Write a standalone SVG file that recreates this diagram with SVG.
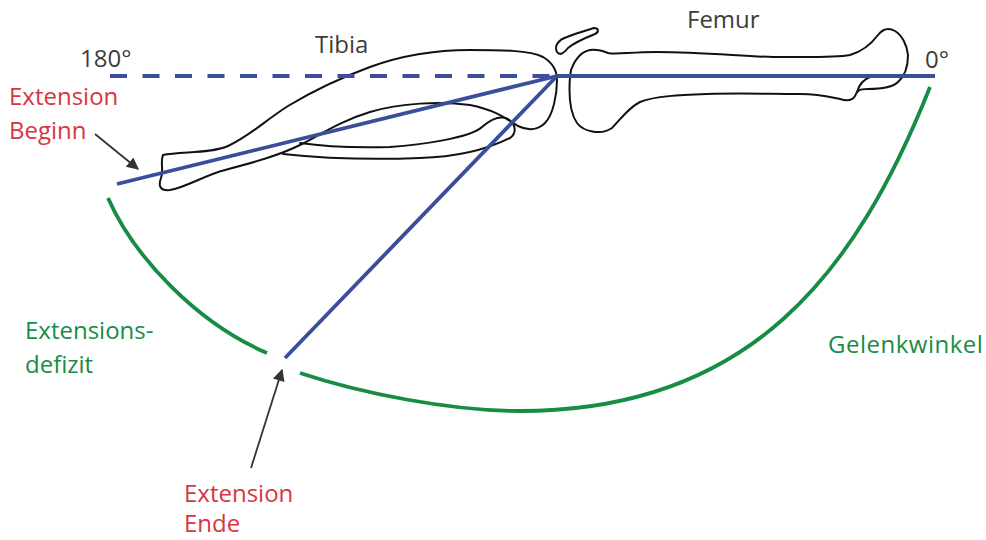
<svg xmlns="http://www.w3.org/2000/svg" width="986" height="540" viewBox="0 0 986 540">
  <defs>
    <style>
      .bone { fill: none; stroke: #111; stroke-width: 2; stroke-linejoin: round; stroke-linecap: round; }
      .axis { fill: none; stroke: #3b4e9c; stroke-width: 3.8; }
      .arc { fill: none; stroke: #178c45; stroke-width: 3.8; }
      .pointer { fill: none; stroke: #333; stroke-width: 1.8; }
      text { font-family: "Open Sans", "Noto Sans", "Liberation Sans", sans-serif; font-size: 24px; }
      .lbl { fill: #3c3c3c; }
      .red { fill: #d9343f; }
      .green { fill: #178c45; }
    </style>
    <marker id="headBig" viewBox="0 0 10 10" refX="9" refY="5" markerWidth="14" markerHeight="12" markerUnits="userSpaceOnUse" orient="auto">
      <path d="M0,0 L10,5 L0,10 Z" fill="#333"/>
    </marker>
  </defs>

  <!-- bones -->
  <g id="tibia">
    <path class="bone" d="M163,155 C180,151 210,154 228,146 C250,136 263,122 288,106 C313,91 340,78 370,67 C400,56 430,50 470,50 C500,50 530,50 543,57 C553,63 557,72 557,80 C557,95 553,115 545,123 C538,130 528,131 518,126 C505,118 495,110 470,105 C440,101 400,103 370,112 C340,121 320,135 300,145 C280,155 255,162 225,170 C205,175 185,188 170,190 C160,191 158,186 161,178 C164,170 160,162 163,155 Z"/>
    <path class="bone" d="M283,154 C320,158 370,160 420,158 C460,157 490,148 510,138 C517,133 516,124 508,119 C500,115 490,120 482,127 C470,138 420,145 390,147 C350,148 320,146 300,143"/>
  </g>
  <g id="patella">
    <path class="bone" d="M557,52 C554,46 558,40 567,37 C577,33 588,30 594,28 C599,28 599,32 595,34 C585,38 575,42 568,48 C564,53 560,56 557,52 Z"/>
  </g>
  <g id="femur">
    <path class="bone" d="M570,77 C569,90 568,110 577,123 C583,131 600,136 612,128 C620,120 628,108 640,102 C655,96 680,95 707,94 C740,93 770,94 800,94 C820,94 830,97 840,99 C846,101 852,101 855,96 C857,91 858,89 868,89 C880,89 893,87 898,82 C905,76 908,65 908,55 C907,45 902,35 895,31 C888,27 882,30 878,35 C872,43 864,51 850,55 C835,58 800,57 773,57 C740,56 700,52 657,52 C630,52 615,55 608,53 C603,51 598,49 590,50 C580,52 574,62 571,70 Z"/>
    <path class="bone" d="M857,92 C859,85 862,80 870,77"/>
  </g>

  <!-- angle lines, arcs and pointers -->
  <g id="connectors">
    <line class="axis" x1="110" y1="76" x2="555" y2="76" stroke-dasharray="17 15.5"/>
    <line class="axis" x1="555" y1="76" x2="935" y2="76"/>
    <line class="axis" x1="557" y1="76" x2="117" y2="184"/>
    <line class="axis" x1="557" y1="76" x2="285" y2="358"/>
    <path class="arc" d="M930,87 C856,273 750,411 520,411 C450,411 360,393 300,373"/>
    <path class="arc" d="M108,198 C134,257 197,323 267,353"/>
    <line class="pointer" x1="95" y1="134" x2="138" y2="169" marker-end="url(#headBig)"/>
    <line class="pointer" x1="251" y1="468" x2="282" y2="370" marker-end="url(#headBig)"/>
  </g>

  <!-- labels -->
  <g id="labels">
    <text class="lbl" x="80" y="67">180°</text>
    <text class="lbl" x="925" y="68">0°</text>
    <text class="lbl" x="315" y="53">Tibia</text>
    <text class="lbl" x="687" y="28">Femur</text>
    <text class="red" x="9" y="105">Extension</text>
    <text class="red" x="9" y="139">Beginn</text>
    <text class="green" x="25" y="339">Extensions-</text>
    <text class="green" x="25" y="373">defizit</text>
    <text class="green" x="828" y="353" letter-spacing="0.5">Gelenkwinkel</text>
    <text class="red" x="184" y="502">Extension</text>
    <text class="red" x="184" y="532">Ende</text>
  </g>
</svg>
